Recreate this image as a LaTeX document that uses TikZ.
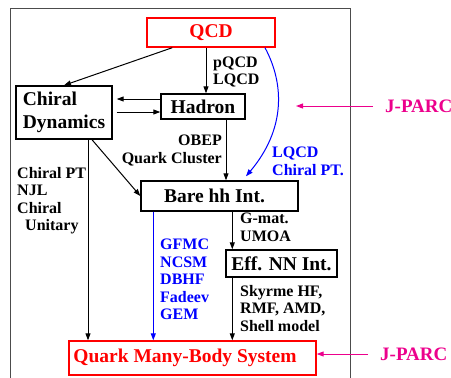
\documentclass[tikz,border=0pt]{standalone}
\usepackage{fontspec}
\setmainfont{Liberation Serif}
\usetikzlibrary{arrows.meta,calc}
\newcommand\diagbig{\fontsize{19.5}{23}\selectfont\bfseries}
\newcommand\diaglbl{\fontsize{16}{17.5}\selectfont\bfseries}
\newcommand\diagjp{\fontsize{19}{21}\selectfont\bfseries}
\begin{document}
\begin{tikzpicture}[x=1pt,y=-1pt,
  box/.style={draw, line width=1.4pt, inner sep=0pt, font=\diagbig},
  lbl/.style={inner sep=0pt, font=\diaglbl, align=left, anchor=north west},
  jp/.style={inner sep=0pt, font=\diagjp, text=magenta, anchor=west},
  arr/.style={line width=1pt, -{Triangle[length=7pt,width=5pt]}},
  barr/.style={arr, draw=blue},
  parr/.style={arr, draw=magenta},
  frame/.style={line width=0.8pt, draw=black!70}
]
\useasboundingbox (0,0) rectangle (451,378);
\clip (0,0) rectangle (451,378);
\draw[frame] (10,378) -- (10,8) -- (350,8) -- (350,378);

% boxes
\node[box, draw=red, text=red, minimum width=128pt, minimum height=29pt] (qcd) at (211,32.5) {QCD};
\node[box, align=left, minimum width=96pt, minimum height=53pt] (chiral) at (64,112.5) {Chiral\\Dynamics};
\node[box, minimum width=84pt, minimum height=25pt] (hadron) at (203,106.5) {Hadron};
\node[box, minimum width=157pt, minimum height=30pt] (bare) at (219.5,196) {Bare hh Int.\hspace*{10pt}};
\node[box, minimum width=111pt, minimum height=27pt] (eff) at (281.5,263.5) {Eff. NN Int.};
\node[box, draw=red, text=red, minimum width=247pt, minimum height=34pt] (qmb) at (192.5,358) {Quark Many-Body System\hspace*{15pt}};

% labels
\node[lbl] (pq) at (213,56.5) {pQCD\\LQCD};
\node[lbl, align=right, anchor=north east] (obep) at (222,135) {OBEP\\Quark Cluster};
\node[lbl] (chpt) at (17,167) {Chiral PT\\NJL\\Chiral\\\hspace*{8pt}Unitary};
\node[lbl, text=blue] (lqcd) at (272,147) {LQCD\\Chiral PT.};
\node[lbl, text=blue] (gfmc) at (160,239) {GFMC\\NCSM\\DBHF\\Fadeev\\GEM};
\node[lbl] (gmat) at (240,213) {G-mat.\\UMOA};
\node[lbl] (sky) at (240,285) {Skyrme HF,\\RMF, AMD,\\Shell model};

\node[jp] (jp1) at (385,106) {J-PARC};
\node[jp] (jp2) at (380,354) {J-PARC};
\coordinate (jp1end) at (296,106);

% connectors
\draw[arr] ([xshift=26pt]qcd.south west) -- (chiral.north);
\draw[arr] ([xshift=3pt]hadron.north |- qcd.south) -- ([xshift=3pt]hadron.north);
\draw[arr, shorten >=4pt] ([yshift=7.5pt]hadron.west) -- ([yshift=7.5pt]hadron.west -| chiral.east);
\draw[arr, shorten <=4pt] ([yshift=-5.5pt]hadron.west -| chiral.east) -- ([yshift=-5.5pt]hadron.west);
\draw[arr] ([xshift=23pt]hadron.south) -- ([xshift=23pt]hadron.south |- bare.north);
\draw[arr] ([xshift=28pt]chiral.south) -- (bare.west);
\draw[arr] ([xshift=24pt]chiral.south) -- ([xshift=24pt]chiral.south |- qmb.north);
\draw[barr] ([xshift=13pt]bare.south west) -- ([xshift=13pt]bare.south west |- qmb.north);
\draw[arr] ([xshift=7pt]eff.north west |- bare.south) -- ([xshift=7pt]eff.north west);
\draw[arr] ([xshift=7pt]eff.south west) -- ([xshift=7pt]eff.south west |- qmb.north);
\draw[barr] ([xshift=54pt]qcd.south) .. controls (285,85) and (285,130) .. ([xshift=26.5pt,yshift=4pt]bare.north);
\draw[parr] ([xshift=-12pt]jp1.west) -- (jp1end);
\draw[parr] ([xshift=-12pt]jp2.west) -- ([yshift=4pt]qmb.east);
\end{tikzpicture}
\end{document}
